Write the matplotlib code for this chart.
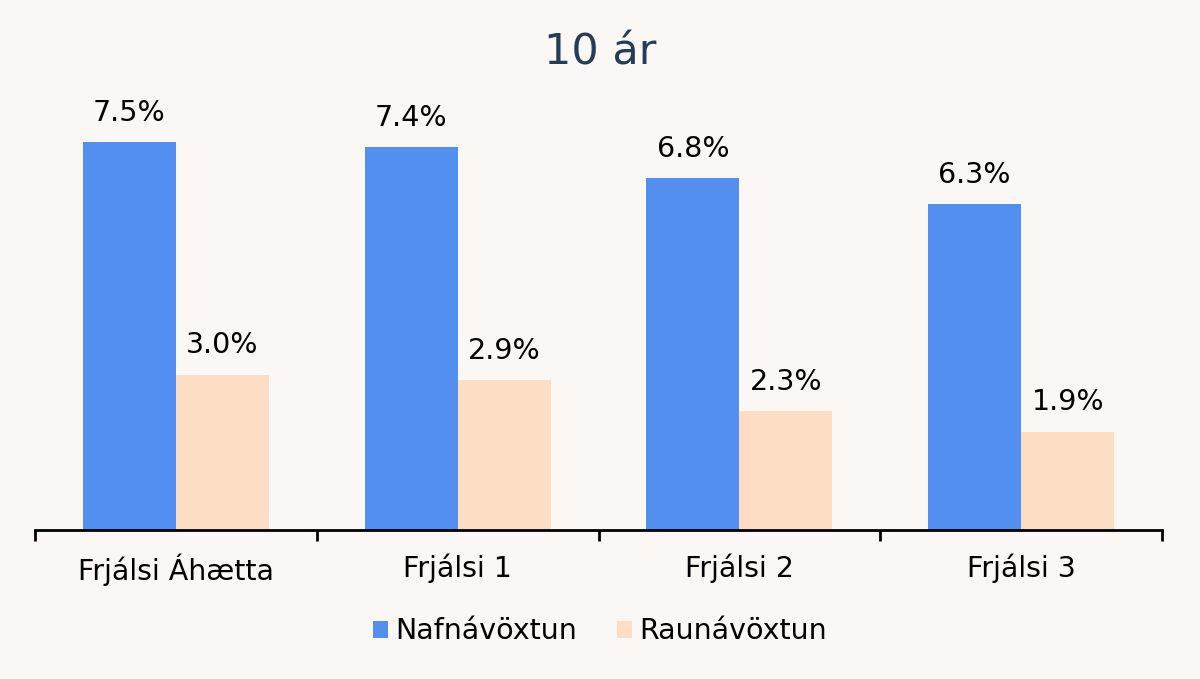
import matplotlib
matplotlib.use('Agg')
import matplotlib.pyplot as plt
import numpy as np

# gögn
categories = ['Frjálsi Áhætta', 'Frjálsi 1', 'Frjálsi 2', 'Frjálsi 3']
nafn = [7.5, 7.4, 6.8, 6.3]
raun = [3.0, 2.9, 2.3, 1.9]
series_names = ['Nafnávöxtun', 'Raunávöxtun']

BG = '#faf7f4'
BLUE = '#528fef'
PEACH = '#fddec4'

plt.rcParams['font.family'] = ['DejaVu Sans']

fig = plt.figure(figsize=(12, 6.79), dpi=100, facecolor=BG)
ax = fig.add_axes([0.0292, 0.2194, 0.9392, 0.648])
ax.set_facecolor(BG)

x = np.arange(len(categories))
w = 0.33
b1 = ax.bar(x - w / 2, nafn, w, color=BLUE, label=series_names[0])
b2 = ax.bar(x + w / 2, raun, w, color=PEACH, label=series_names[1])

for bars, vals in ((b1, nafn), (b2, raun)):
    for r, v in zip(bars, vals):
        ax.annotate(f'{v:.1f}%', (r.get_x() + r.get_width() / 2, v),
                    xytext=(0, 11), textcoords='offset points',
                    ha='center', va='bottom', fontsize=20.5, color='black')

ax.set_xlim(-0.5, len(categories) - 0.5)
ax.set_ylim(0, 8.5)
ax.set_yticks([])
for s in ['top', 'right', 'left']:
    ax.spines[s].set_visible(False)
ax.spines['bottom'].set_linewidth(2)
ax.spines['bottom'].set_color('black')

# tick-merki á mörkum flokka
ax.set_xticks(np.arange(-0.5, len(categories)), minor=False)
ax.set_xticklabels([])
ax.set_xticks(x, minor=True)
ax.set_xticklabels(categories, minor=True, fontsize=20.5)
ax.tick_params(axis='x', which='major', length=8, width=2, color='black')
ax.tick_params(axis='x', which='minor', length=0, pad=17)

fig.text(0.5, 0.923, '10 ár', ha='center', va='center', fontsize=31, color='#263d5a')

fig.legend(loc='center', bbox_to_anchor=(0.5, 0.07), ncol=2, frameon=False,
           fontsize=20.5, handlelength=0.53, handleheight=0.53, handletextpad=0.25,
           columnspacing=1.4)

fig.savefig('out.png', dpi=100, facecolor=BG)
